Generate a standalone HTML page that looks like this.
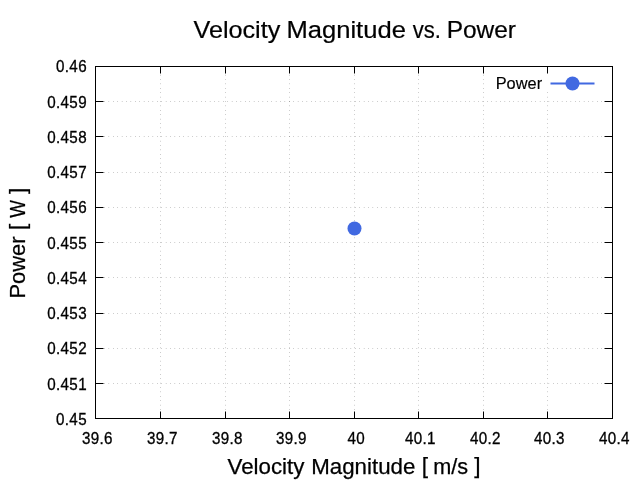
<!DOCTYPE html>
<html><head><meta charset="utf-8"><title>Velocity Magnitude vs. Power</title>
<style>html,body{margin:0;padding:0;background:#fff}svg{display:block}text{font-family:"Liberation Sans",sans-serif;fill:#000}</style></head><body>
<svg width="640" height="480" viewBox="0 0 640 480">
<rect width="640" height="480" fill="#fff"/>
<g stroke="#000" stroke-width="0.5" stroke-dasharray="0.4 4" fill="none">
<path d="M95.5 383.5H612.5"/>
<path d="M95.5 348.5H612.5"/>
<path d="M95.5 313.5H612.5"/>
<path d="M95.5 277.5H612.5"/>
<path d="M95.5 242.5H612.5"/>
<path d="M95.5 207.5H612.5"/>
<path d="M95.5 172.5H612.5"/>
<path d="M95.5 136.5H612.5"/>
<path d="M95.5 101.5H612.5"/>
<path d="M160.5 418.5V66.5"/>
<path d="M225.5 418.5V66.5"/>
<path d="M289.5 418.5V66.5"/>
<path d="M354.5 418.5V66.5"/>
<path d="M418.5 418.5V66.5"/>
<path d="M483.5 418.5V66.5"/>
<path d="M547.5 418.5V91"/>
</g>
<g stroke="#000" stroke-width="1" fill="none">
<path d="M95.5 383.5h8M612.5 383.5h-8"/>
<path d="M95.5 348.5h8M612.5 348.5h-8"/>
<path d="M95.5 313.5h8M612.5 313.5h-8"/>
<path d="M95.5 277.5h8M612.5 277.5h-8"/>
<path d="M95.5 242.5h8M612.5 242.5h-8"/>
<path d="M95.5 207.5h8M612.5 207.5h-8"/>
<path d="M95.5 172.5h8M612.5 172.5h-8"/>
<path d="M95.5 136.5h8M612.5 136.5h-8"/>
<path d="M95.5 101.5h8M612.5 101.5h-8"/>
<path d="M160.5 418.5v-7M160.5 66.5v7"/>
<path d="M225.5 418.5v-7M225.5 66.5v7"/>
<path d="M289.5 418.5v-7M289.5 66.5v7"/>
<path d="M354.5 418.5v-7M354.5 66.5v7"/>
<path d="M418.5 418.5v-7M418.5 66.5v7"/>
<path d="M483.5 418.5v-7M483.5 66.5v7"/>
<path d="M547.5 418.5v-7M547.5 66.5v7"/>
<rect x="95.5" y="66.5" width="517.0" height="352.0"/>
</g>
<g font-size="16" text-anchor="end" stroke="#000" stroke-width="0.3">
<text transform="translate(86.942,425) scale(0.95,1)" letter-spacing="0.36">0.45</text>
<text transform="translate(86.942,390) scale(0.95,1)" letter-spacing="0.36">0.451</text>
<text transform="translate(86.942,354) scale(0.95,1)" letter-spacing="0.36">0.452</text>
<text transform="translate(86.942,319) scale(0.95,1)" letter-spacing="0.36">0.453</text>
<text transform="translate(86.942,284) scale(0.95,1)" letter-spacing="0.36">0.454</text>
<text transform="translate(86.942,249) scale(0.95,1)" letter-spacing="0.36">0.455</text>
<text transform="translate(86.942,213) scale(0.95,1)" letter-spacing="0.36">0.456</text>
<text transform="translate(86.942,178) scale(0.95,1)" letter-spacing="0.36">0.457</text>
<text transform="translate(86.942,143) scale(0.95,1)" letter-spacing="0.36">0.458</text>
<text transform="translate(86.942,108) scale(0.95,1)" letter-spacing="0.36">0.459</text>
<text transform="translate(86.942,72) scale(0.95,1)" letter-spacing="0.36">0.46</text>
</g>
<g font-size="16" text-anchor="middle" stroke="#000" stroke-width="0.3">
<text transform="translate(97.37100000000001,444) scale(0.95,1)" letter-spacing="0.36">39.6</text>
<text transform="translate(162.37099999999998,444) scale(0.95,1)" letter-spacing="0.36">39.7</text>
<text transform="translate(227.37099999999998,444) scale(0.95,1)" letter-spacing="0.36">39.8</text>
<text transform="translate(291.371,444) scale(0.95,1)" letter-spacing="0.36">39.9</text>
<text transform="translate(356.371,444) scale(0.95,1)" letter-spacing="0.36">40</text>
<text transform="translate(420.371,444) scale(0.95,1)" letter-spacing="0.36">40.1</text>
<text transform="translate(485.371,444) scale(0.95,1)" letter-spacing="0.36">40.2</text>
<text transform="translate(549.3710000000001,444) scale(0.95,1)" letter-spacing="0.36">40.3</text>
<text transform="translate(614.3710000000001,444) scale(0.95,1)" letter-spacing="0.36">40.4</text>
</g>
<text y="37.8" font-size="23.7" stroke="#000" stroke-width="0.2"><tspan x="193.5" textLength="86.8" lengthAdjust="spacingAndGlyphs">Velocity</tspan> <tspan x="286.4" textLength="119.5" lengthAdjust="spacingAndGlyphs">Magnitude</tspan> <tspan x="412.8" textLength="28.2" lengthAdjust="spacingAndGlyphs">vs.</tspan> <tspan x="446.65" textLength="69.4" lengthAdjust="spacingAndGlyphs">Power</tspan></text>
<text y="473.5" font-size="21.5" stroke="#000" stroke-width="0.25"><tspan x="227.5" textLength="76.9" lengthAdjust="spacingAndGlyphs">Velocity</tspan> <tspan x="311.3" textLength="104.0" lengthAdjust="spacingAndGlyphs">Magnitude</tspan> <tspan x="421.7" y="473.3" font-size="22.7">[</tspan> <tspan x="433.2" y="473.5" textLength="34.9" lengthAdjust="spacingAndGlyphs">m/s</tspan> <tspan x="474.3" y="473.3" font-size="22.7">]</tspan></text>
<text transform="translate(25.2,0) rotate(-90)" y="0" font-size="21.5" stroke="#000" stroke-width="0.25"><tspan x="-298.5" textLength="62" lengthAdjust="spacingAndGlyphs">Power</tspan> <tspan x="-230.1" y="-0.2" font-size="22.7">[</tspan> <tspan x="-217.75" y="0" textLength="17.6" lengthAdjust="spacingAndGlyphs">W</tspan> <tspan x="-194.1" y="-0.2" font-size="22.7">]</tspan></text>
<text stroke="#000" stroke-width="0.15" x="495.7" y="88.8" font-size="16" textLength="46.4" lengthAdjust="spacingAndGlyphs">Power</text>
<path d="M550.5 83.5H594.5" stroke="#4169e1" stroke-width="2" fill="none"/>
<circle cx="572.5" cy="83.5" r="7" fill="#4169e1"/>
<circle cx="354.5" cy="228.5" r="7" fill="#4169e1"/>
</svg></body></html>
